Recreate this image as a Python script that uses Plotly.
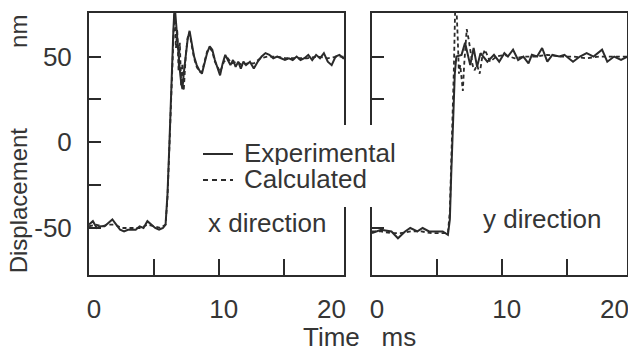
import plotly.graph_objects as go

# ---- data: step response, displacement in nm versus time in ms ----
t_x_exp = [0.0, 0.3, 0.6, 0.9, 1.2, 1.5, 1.8, 2.1, 2.4, 2.7, 3.0, 3.3, 3.6, 3.9, 4.2, 4.5,
           4.8, 5.1, 5.4, 5.7, 5.9, 6.05, 6.2, 6.35, 6.5, 6.6, 6.7, 6.8, 6.9, 7.0, 7.1, 7.2,
           7.3, 7.45, 7.6, 7.75, 7.9, 8.1, 8.3, 8.5, 8.7, 8.9, 9.1, 9.3, 9.5, 9.7, 9.9, 10.1,
           10.3, 10.5, 10.7, 10.9, 11.1, 11.3, 11.5, 11.7, 11.9, 12.1, 12.4, 12.7, 13.0, 13.3,
           13.6, 13.9, 14.2, 14.5, 14.8, 15.1, 15.4, 15.7, 16.0, 16.3, 16.6, 16.9, 17.2, 17.5,
           17.8, 18.1, 18.4, 18.7, 19.0, 19.3, 19.6, 20.0]
d_x_exp = [-48, -46, -50, -49, -49, -47, -45, -48, -51, -52, -51, -51, -51, -49, -50, -46,
           -48, -50, -51, -50, -48, -30, 0, 35, 65, 80, 70, 58, 52, 42, 35, 31,
           40, 52, 60, 65, 58, 50, 45, 42, 40, 46, 52, 56, 54, 48, 43, 39,
           46, 51, 48, 45, 48, 44, 47, 43, 47, 45, 47, 43, 47, 50,
           52, 51, 49, 50, 49, 48, 49, 48, 50, 48, 49, 51, 48, 51,
           49, 52, 47, 45, 50, 51, 49, 50]

t_x_calc = [0.0, 0.5, 1.0, 1.5, 2.0, 2.5, 3.0, 3.5, 4.0, 4.5, 5.0, 5.5, 5.9, 6.05, 6.2, 6.35,
            6.5, 6.6, 6.7, 6.8, 6.9, 7.0, 7.1, 7.2, 7.3, 7.45, 7.6, 7.75, 7.9, 8.1, 8.3, 8.5,
            8.7, 8.9, 9.1, 9.3, 9.5, 9.7, 9.9, 10.1, 10.4, 10.7, 11.0, 11.4, 11.8, 12.2, 12.7,
            13.2, 13.8, 14.5, 15.2, 16.0, 16.8, 17.6, 18.4, 19.2, 20.0]
d_x_calc = [-49, -48, -49, -48, -48, -50, -50, -50, -50, -48, -49, -50, -48, -32, -2, 33,
            64, 80, 55, 66, 42, 58, 33, 46, 30, 50, 61, 64, 57, 49, 44, 41,
            41, 47, 53, 55, 53, 47, 44, 41, 47, 49, 46, 47, 45, 46, 46,
            49, 50, 50, 49, 49, 49, 50, 49, 50, 50]

t_y_exp = [0.0, 0.7, 1.5, 2.0, 2.55, 2.95, 3.5, 3.9, 4.4, 4.9, 5.45, 5.85, 6.0, 6.1, 6.25,
           6.38, 6.5, 6.9, 7.17, 7.57, 7.83, 8.1, 8.36, 8.89, 9.4, 9.8, 10.2, 10.47, 10.87,
           11.26, 11.66, 12.06, 12.32, 12.72, 13.11, 13.51, 13.9, 14.43, 14.83, 15.49, 16.02,
           16.54, 17.07, 17.73, 18.13, 18.66, 19.19, 19.71, 20.0]
d_y_exp = [-53, -51, -52, -56, -52, -50, -52, -50, -52, -52, -52, -54, -45, -20, 15,
           40, 50, 51, 58, 45, 55, 44, 52, 47, 51, 47, 52, 50, 54,
           48, 50, 46, 51, 50, 55, 47, 51, 50, 51, 47, 50,
           52, 50, 54, 47, 50, 48, 50, 50]

t_y_calc = [0.0, 0.7, 1.5, 2.2, 3.0, 3.8, 4.6, 5.4, 5.85, 6.0, 6.15, 6.3, 6.4, 6.5, 6.6,
            6.7, 6.8, 6.9, 7.0, 7.1, 7.2, 7.3, 7.45, 7.6, 7.75, 7.9, 8.1, 8.3, 8.5, 8.7,
            8.9, 9.1, 9.6, 10.2, 11.0, 11.8, 12.6, 13.5, 14.5, 15.5, 16.5, 17.5, 18.5, 19.5, 20.0]
d_y_calc = [-52, -52, -53, -53, -52, -52, -53, -53, -53, -40, -5, 40, 75, 80, 62,
            40, 45, 35, 30, 45, 58, 66, 60, 52, 45, 42, 45, 40, 50, 54,
            50, 47, 50, 51, 49, 50, 50, 51, 50, 50, 49, 50, 50, 50, 50]

series_names = ["Experimental", "Calculated"]
panel_labels = ["x direction", "y direction"]
x_tick_vals = [0, 10, 20]
x_tick_text = ["0", "10", "20"]
x_minor_vals = [5, 10, 15]
y_tick_vals = [-50, -25, 0, 25, 50]
y_tick_text = ["-50", "", "0", "", "50"]

# ---- styling ----
W, H = 628, 348
INK = "#2b2b2b"
TEXT = "#353535"
FONT = "Liberation Sans, Arial, sans-serif"
FS = 26

X_RANGE = [0.0, 19.65]
Y_RANGE = [-77.4, 75.4]
# the last time label is pulled inside the frame so it stays on the page
LABEL_LIMIT = X_RANGE[1] - 1.35
x_label_pos = [min(v, LABEL_LIMIT) for v in x_tick_vals]


def fx(p):
    return p / W


def fy(p):
    return 1 - p / H


fig = go.Figure()

panels = [("x", "y", t_x_exp, d_x_exp, t_x_calc, d_x_calc),
          ("x2", "y2", t_y_exp, d_y_exp, t_y_calc, d_y_calc)]
for xa, ya, te, de, tc, dc in panels:
    fig.add_trace(go.Scatter(x=te, y=de, xaxis=xa, yaxis=ya, mode="lines",
                             name=series_names[0], showlegend=False,
                             line=dict(color=INK, width=2)))
    fig.add_trace(go.Scatter(x=tc, y=dc, xaxis=xa, yaxis=ya, mode="lines",
                             name=series_names[1], showlegend=False,
                             line=dict(color=INK, width=1.8, dash="4px,3px")))

xcommon = dict(range=X_RANGE, showline=True, mirror=True, linecolor=INK, linewidth=2,
               showgrid=False, zeroline=False, tickvals=x_label_pos, ticktext=x_tick_text,
               ticks="", tickfont=dict(family=FONT, size=FS, color=TEXT),
               ticklabelstandoff=10, ticklabelshift=5, ticklabeloverflow="allow",
               minor=dict(tickvals=x_minor_vals, ticks="inside", ticklen=16,
                          tickwidth=2, tickcolor=INK, showgrid=False))
ycommon = dict(range=Y_RANGE, showline=True, mirror=True, linecolor=INK, linewidth=2,
               showgrid=False, zeroline=False, tickvals=y_tick_vals, ticktext=y_tick_text,
               ticks="inside", ticklen=12, tickwidth=2, tickcolor=INK,
               tickfont=dict(family=FONT, size=FS, color=TEXT), ticklabelstandoff=10)

nb = "\u00a0"
fig.update_layout(
    width=W, height=H,
    margin=dict(l=0, r=0, t=0, b=0, autoexpand=False),
    paper_bgcolor="white", plot_bgcolor="white",
    showlegend=False,
    xaxis=dict(domain=[fx(89), fx(344)], anchor="y", **xcommon),
    xaxis2=dict(domain=[fx(372), fx(627)], anchor="y2", **xcommon),
    yaxis=dict(domain=[fy(275), fy(13)], anchor="x",
               title=dict(text="Displacement" + nb * 12 + "nm" + nb * 3,
                          font=dict(family=FONT, size=24, color=TEXT), standoff=0),
               **ycommon),
    yaxis2=dict(domain=[fy(275), fy(13)], anchor="x2", showticklabels=False, **ycommon),
)

# legend box (white panel over the frame lines), with line samples
fig.add_shape(type="rect", xref="paper", yref="paper", layer="above",
              x0=fx(197), x1=fx(400), y0=fy(207), y1=fy(125),
              fillcolor="white", line=dict(width=0))
fig.add_shape(type="line", xref="paper", yref="paper", layer="above",
              x0=fx(203), x1=fx(233), y0=fy(154), y1=fy(154),
              line=dict(color=INK, width=2))
fig.add_shape(type="line", xref="paper", yref="paper", layer="above",
              x0=fx(203), x1=fx(233), y0=fy(180), y1=fy(180),
              line=dict(color=INK, width=2, dash="5px,4px"))
for name, yc in zip(series_names, [153, 179]):
    fig.add_annotation(text=name, xref="paper", yref="paper", x=fx(242), y=fy(yc),
                       xanchor="left", yanchor="middle", height=24, valign="middle",
                       showarrow=False, font=dict(family=FONT, size=FS, color=TEXT))

# panel labels
fig.add_annotation(text=panel_labels[0], xref="x", yref="y", x=13.75, y=-46.9,
                   showarrow=False, font=dict(family=FONT, size=FS, color=TEXT))
fig.add_annotation(text=panel_labels[1], xref="x2", yref="y2", x=13.14, y=-44.6,
                   showarrow=False, font=dict(family=FONT, size=FS, color=TEXT))

# shared time axis title
fig.add_annotation(text="Time" + nb * 3 + "ms", xref="paper", yref="paper",
                   x=fx(359.5), y=0, xanchor="center", yanchor="bottom", yshift=-6,
                   showarrow=False, font=dict(family=FONT, size=FS, color=TEXT))

fig.write_html("out.html")
